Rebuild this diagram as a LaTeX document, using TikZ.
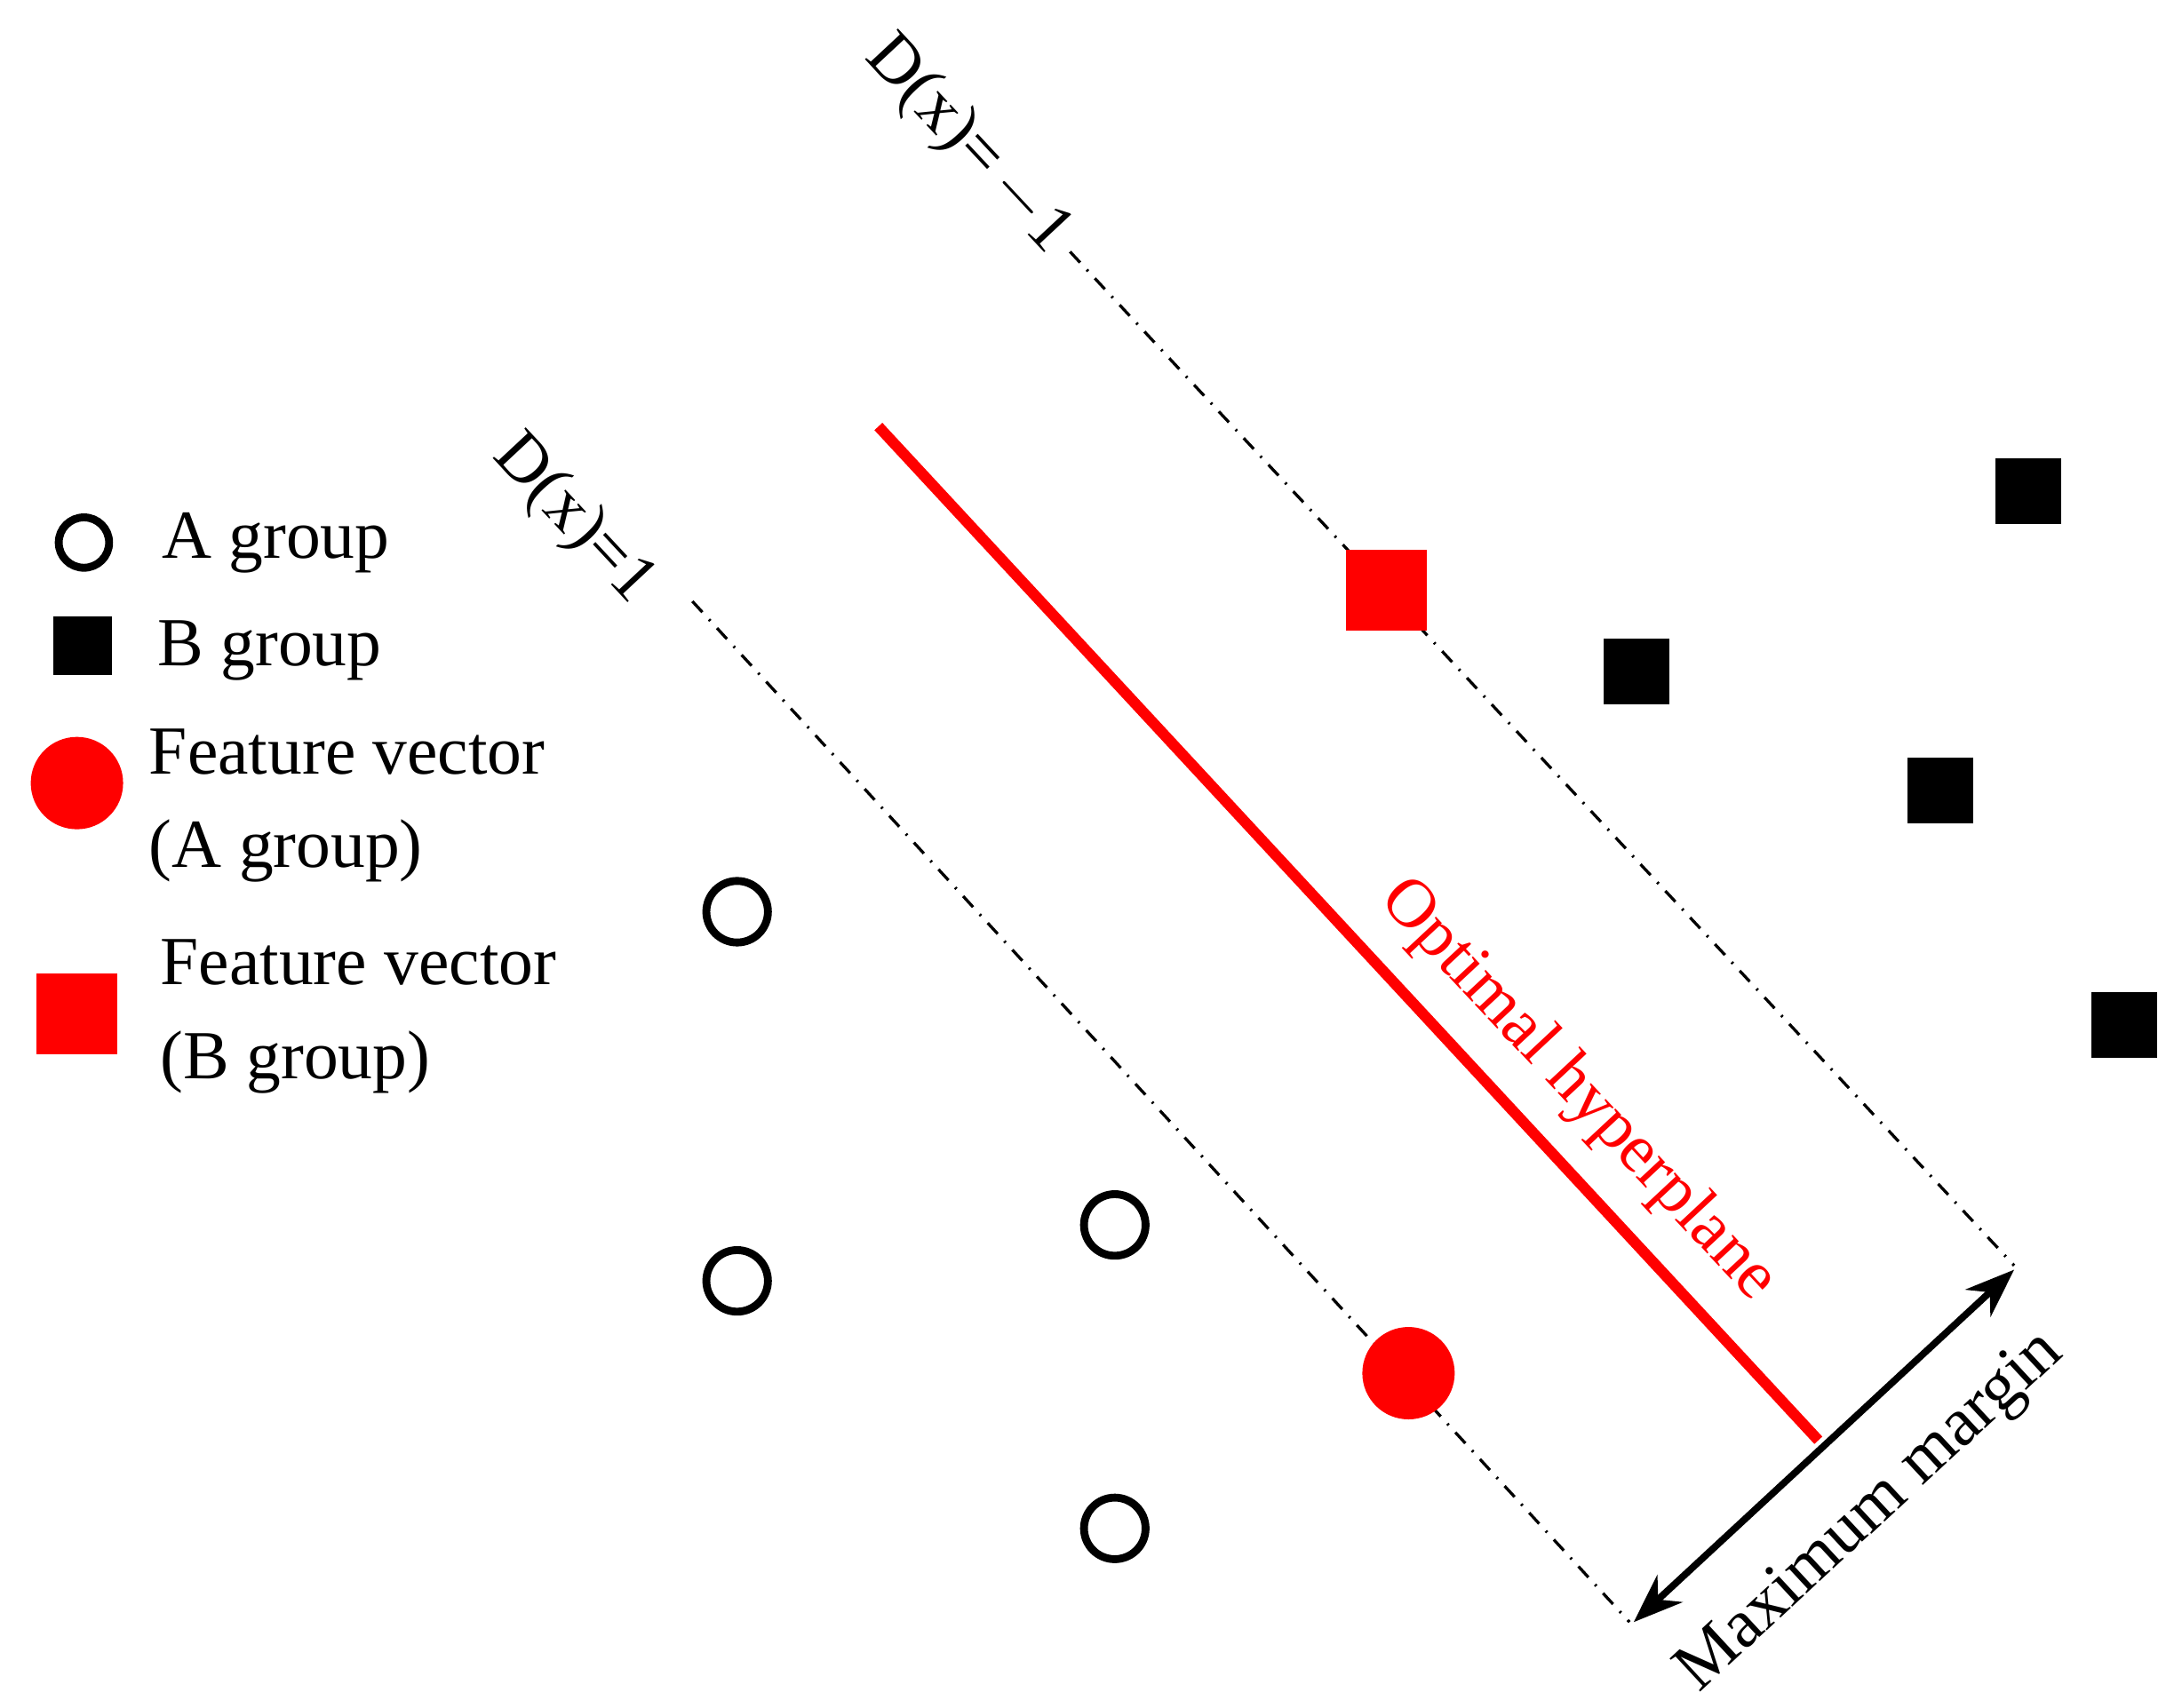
\documentclass[tikz,border=0pt]{standalone}
\usepackage{fontspec}
\setmainfont{Liberation Serif}
\usetikzlibrary{arrows.meta,calc}
\begin{document}
\begin{tikzpicture}[x=0.01cm,y=-0.01cm,
  lbl/.style={font=\fontsize{14}{17}\selectfont, inner sep=0pt},
  ocirc/.style={circle, draw=black, line width=1.6pt, minimum size=0.44cm, inner sep=0pt},
  bsq/.style={rectangle, fill=black, minimum size=0.47cm, inner sep=0pt},
  rsq/.style={rectangle, fill=red, minimum size=0.58cm, inner sep=0pt},
  rcirc/.style={circle, fill=red, minimum size=0.66cm, inner sep=0pt},
  dd/.style={dash dot, line width=0.6pt}]
\useasboundingbox (0,0) rectangle (1560,1221);
% legend
\node[ocirc, minimum size=0.36cm] (la) at (60,388) {};
\node[lbl, anchor=west] (lat) at (115,388) {A group};
\node[bsq, minimum size=0.42cm] (lb) at (59,462) {};
\node[lbl, anchor=west] (lbt) at (112,465) {B group};
\node[rcirc] (lc) at (55,560) {};
\node[lbl, anchor=west, align=left] (lct) at (106,576) {Feature vector\\[2pt](A group)};
\node[rsq] (ld) at (55,725) {};
\node[lbl, anchor=west, align=left] (ldt) at (114,727) {Feature vector\\[2pt](B group)};
% points
\node[ocirc] (a1) at (527,652) {};
\node[ocirc] (a2) at (527,916) {};
\node[ocirc] (a3) at (797,876) {};
\node[ocirc] (a4) at (797,1093) {};
\node[bsq] (b1) at (1450,351) {};
\node[bsq] (b2) at (1170,480) {};
\node[bsq] (b3) at (1387,565) {};
\node[bsq] (b4) at (1519,733) {};
% lines
\coordinate (m1s) at (765,180); \coordinate (m1e) at (1440,905);
\coordinate (p1s) at (495,430); \coordinate (p1e) at (1165,1160);
\draw[dd] (m1s) -- (m1e);
\draw[dd] (p1s) -- (p1e);
\coordinate (hs) at (628,305); \coordinate (he) at (1300,1030);
\draw[red, line width=2.2pt] (hs) -- (he);
\node[rsq] (fb) at (991,422) {};
\node[rcirc] (fa) at (1007,982) {};
\draw[{Stealth[length=10pt]}-{Stealth[length=10pt]}, line width=1.4pt] ($(m1e)+(0,3)$) -- ($(p1e)+(3,0)$);
\node[lbl, rotate=42.8] (mm) at (1338,1082) {Maximum margin};
\node[lbl, rotate=-47, text=red] (oh) at (1128,780) {Optimal hyperplane};
\node[lbl, rotate=-47] (dm) at (692,104) {D(x)=\,$-$1};
\node[lbl, rotate=-47] (dp) at (410,372) {D(x)=1};
\end{tikzpicture}
\end{document}
